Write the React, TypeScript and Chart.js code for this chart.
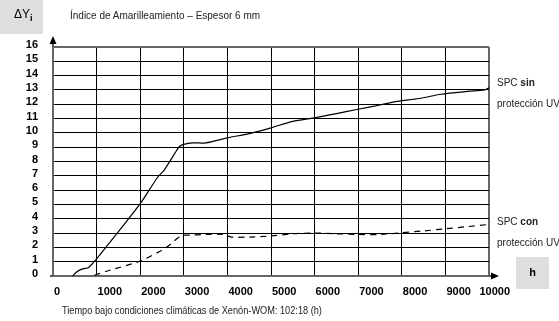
import React, { useEffect, useRef } from "react";
import { Chart, registerables } from "chart.js";
Chart.register(...registerables);

// ---- data ----
const xTickValues = [0, 1000, 2000, 3000, 4000, 5000, 6000, 7000, 8000, 9000, 10000];
const yTickValues = [0, 1, 2, 3, 4, 5, 6, 7, 8, 9, 10, 11, 12, 13, 14, 15, 16];

const sinHours = [450, 550, 680, 820, 1000, 1500, 2000, 2400, 2550, 2780, 2900, 3000, 3200, 3500, 4000, 4500, 5000, 5500, 6000, 6500, 7000, 7500, 7900, 8400, 8900, 9500, 9900, 10000];
const sinValues = [0, 0.3, 0.5, 0.6, 1.2, 3.1, 5.05, 6.9, 7.4, 8.5, 9.05, 9.2, 9.3, 9.3, 9.65, 9.95, 10.35, 10.8, 11.05, 11.35, 11.65, 11.95, 12.2, 12.4, 12.7, 12.9, 13.0, 13.15];

const conHours = [950, 1300, 2000, 2600, 2930, 3100, 3500, 3900, 4100, 4500, 5000, 5500, 6000, 6500, 7000, 7500, 7900, 8500, 9000, 9500, 10000];
const conValues = [0.05, 0.4, 1.05, 2.0, 2.8, 2.85, 2.9, 2.9, 2.72, 2.72, 2.8, 2.95, 3.0, 2.95, 2.9, 2.9, 3.0, 3.15, 3.3, 3.45, 3.6];

const titleText = "Índice de Amarilleamiento – Espesor 6 mm";
const xTitleText = "Tiempo bajo condiciones climáticas de Xenón-WOM: 102:18 (h)";

const tickFont = "bold 11px 'Liberation Sans', Arial, sans-serif";

const arrowPlugin = {
  id: "axisArrows",
  afterDraw(chart: any) {
    const { ctx, chartArea, scales } = chart;
    const { left, right, top, bottom } = chartArea;
    ctx.save();
    ctx.strokeStyle = "#555";
    ctx.lineWidth = 2;
    ctx.beginPath();
    ctx.moveTo(left, top);
    ctx.lineTo(left, top - 5);
    ctx.moveTo(right, bottom);
    ctx.lineTo(right + 3, bottom);
    ctx.moveTo(left - 3, bottom);
    ctx.lineTo(left, bottom);
    ctx.stroke();
    ctx.fillStyle = "#000";
    ctx.beginPath();
    ctx.moveTo(left, top - 11);
    ctx.lineTo(left - 3.5, top - 3);
    ctx.lineTo(left + 3.5, top - 3);
    ctx.closePath();
    ctx.fill();
    ctx.beginPath();
    ctx.moveTo(right + 10, bottom);
    ctx.lineTo(right + 2, bottom - 3.5);
    ctx.lineTo(right + 2, bottom + 3.5);
    ctx.closePath();
    ctx.fill();

    // x tick labels: set just right of their grid line (last one ends past it)
    const xs = scales.x;
    ctx.font = tickFont;
    ctx.fillStyle = "#000";
    ctx.textBaseline = "middle";
    xTickValues.forEach((v, i) => {
      const px = xs.getPixelForValue(v);
      const last = i === xTickValues.length - 1;
      ctx.textAlign = last ? "right" : "left";
      ctx.fillText(String(v), last ? px + 21 : px + 1, bottom + 16);
    });
    ctx.restore();
  },
};

const textBase: React.CSSProperties = {
  position: "absolute",
  fontFamily: "'Liberation Sans', Arial, sans-serif",
  fontSize: 10,
  color: "#222",
  whiteSpace: "nowrap",
  lineHeight: "12px",
};

export default function App() {
  const ref = useRef<HTMLCanvasElement>(null);
  useEffect(() => {
    if (!ref.current) return;
    const chart = new Chart(ref.current, {
      type: "line",
      data: {
        datasets: [
          {
            label: "SPC sin protección UV",
            data: sinHours.map((h, i) => ({ x: h, y: sinValues[i] })),
            borderColor: "#000",
            borderWidth: 1.2,
            pointRadius: 0,
            tension: 0.3,
            fill: false,
          },
          {
            label: "SPC con protección UV",
            data: conHours.map((h, i) => ({ x: h, y: conValues[i] })),
            borderColor: "#000",
            borderWidth: 1.2,
            borderDash: [6, 5],
            pointRadius: 0,
            tension: 0.3,
            fill: false,
          },
        ],
      },
      options: {
        responsive: false,
        animation: false,
        layout: { padding: { top: 47, right: 70, left: 0, bottom: 0 } },
        plugins: { legend: { display: false }, tooltip: { enabled: false } },
        scales: {
          x: {
            type: "linear",
            min: 0,
            max: 10000,
            afterBuildTicks: (s: any) => {
              s.ticks = xTickValues.map((v) => ({ value: v }));
            },
            afterFit: (s: any) => {
              s.height = 45;
            },
            grid: {
              color: (c: any) => (c.index === xTickValues.length - 1 ? "#666" : "#000"),
              lineWidth: (c: any) => (c.index === xTickValues.length - 1 ? 2 : 1),
              drawTicks: false,
            },
            border: { color: "#666", width: 2 },
            ticks: { display: false },
          },
          y: {
            type: "linear",
            min: 0,
            max: 16,
            afterBuildTicks: (s: any) => {
              s.ticks = yTickValues.map((v) => ({ value: v }));
            },
            afterFit: (s: any) => {
              s.width = 53;
            },
            grid: {
              color: (c: any) => (c.index === yTickValues.length - 1 ? "#666" : "#000"),
              lineWidth: (c: any) => (c.index === yTickValues.length - 1 ? 2 : 1),
              drawTicks: false,
            },
            border: { color: "#666", width: 2 },
            ticks: {
              color: "#000",
              padding: 15,
              labelOffset: -2,
              autoSkip: false,
              font: { family: "'Liberation Sans', Arial, sans-serif", size: 11, weight: "bold" },
              callback: (v: any) => String(v),
            },
          },
        },
      },
      plugins: [arrowPlugin],
    } as any);
    return () => chart.destroy();
  }, []);

  return (
    <div style={{ position: "absolute", left: 0, top: 0, width: 559, height: 321, background: "#fff", overflow: "hidden" }}>
      <canvas ref={ref} width={559} height={321} style={{ position: "absolute", left: 0, top: 0 }} />
      <div style={{ position: "absolute", left: 0, top: 0, width: 43, height: 34, background: "#dedede" }} />
      <div style={{ ...textBase, left: 14, top: 8, fontSize: 12, color: "#000" }}>
        ΔY<sub style={{ fontSize: 9, fontWeight: "bold", verticalAlign: "-3px" }}>i</sub>
      </div>
      <div style={{ ...textBase, left: 70, top: 10 }}>{titleText}</div>
      <div style={{ ...textBase, left: 497, top: 77 }}>
        SPC <b>sin</b>
      </div>
      <div style={{ ...textBase, left: 497, top: 98 }}>protección UV</div>
      <div style={{ ...textBase, left: 497, top: 216 }}>
        SPC <b>con</b>
      </div>
      <div style={{ ...textBase, left: 497, top: 237 }}>protección UV</div>
      <div style={{ position: "absolute", left: 516, top: 257, width: 33, height: 32, background: "#dedede" }} />
      <div style={{ ...textBase, left: 516, top: 266, width: 33, textAlign: "center", fontWeight: "bold", fontSize: 11, color: "#000" }}>h</div>
      <div style={{ ...textBase, left: 62, top: 305, transform: "scaleX(0.92)", transformOrigin: "left center" }}>{xTitleText}</div>
    </div>
  );
}
